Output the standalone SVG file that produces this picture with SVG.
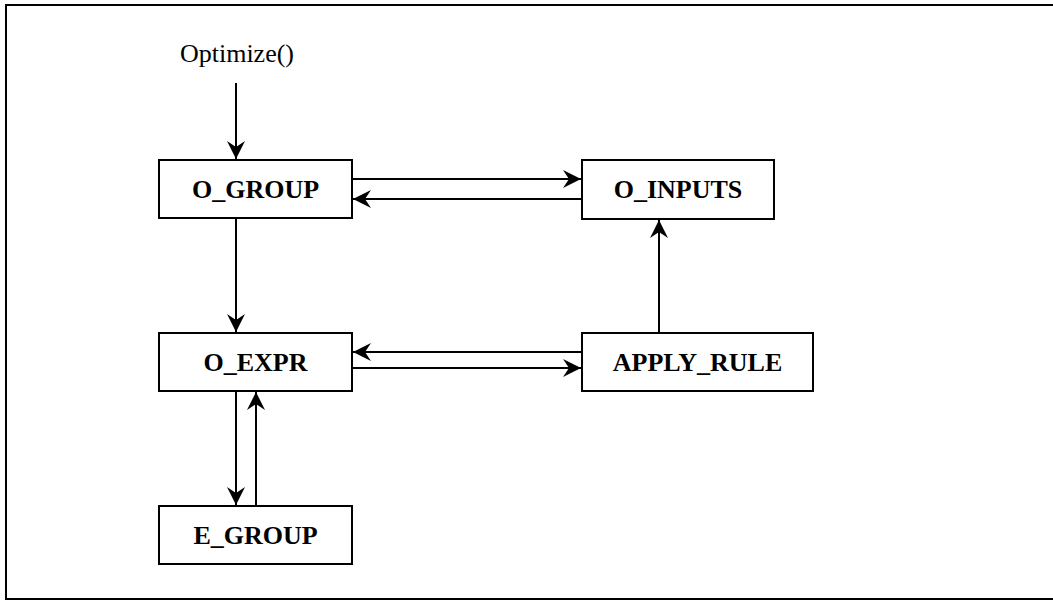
<svg xmlns="http://www.w3.org/2000/svg" width="1053" height="601" viewBox="0 0 1053 601">
<style>
.box{fill:#fff;stroke:#000;stroke-width:2}
.lbl{font-family:"Liberation Serif","Times New Roman",serif;font-size:26px;font-weight:bold;text-anchor:middle;fill:#000}
.plain{font-family:"Liberation Serif","Times New Roman",serif;font-size:26px;text-anchor:middle;fill:#000}
.edge{fill:none;stroke:#000;stroke-width:2;marker-end:url(#arr)}
</style>
<defs>
<marker id="arr" markerUnits="userSpaceOnUse" markerWidth="22" markerHeight="22" viewBox="-20 -11 22 22" refX="0" refY="0" orient="auto">
<path d="M0,0 L-18,-9 L-12,0 L-18,9 Z" fill="#000"/>
</marker>
</defs>
<rect width="1053" height="601" fill="#fff"/>
<path d="M6,600 L6,5 L1053,5 M6,599 L1053,599" fill="none" stroke="#000" stroke-width="2"/>
<text class="plain" x="237" y="62">Optimize()</text>
<g id="connectors">
<line class="edge" x1="236" y1="83" x2="236" y2="159"/>
<line class="edge" x1="352" y1="179" x2="581" y2="179"/>
<line class="edge" x1="582" y1="199" x2="353" y2="199"/>
<line class="edge" x1="236" y1="218" x2="236" y2="332"/>
<line class="edge" x1="582" y1="352" x2="353" y2="352"/>
<line class="edge" x1="352" y1="368" x2="581" y2="368"/>
<line class="edge" x1="236" y1="391" x2="236" y2="505"/>
<line class="edge" x1="256" y1="506" x2="256" y2="392"/>
<line class="edge" x1="659" y1="333" x2="659" y2="220"/>
</g>
<g id="o_group"><rect class="box" x="159" y="160" width="193" height="58"/><text class="lbl" x="255.5" y="198">O_GROUP</text></g>
<g id="o_inputs"><rect class="box" x="582" y="160" width="192" height="59"/><text class="lbl" x="678" y="198">O_INPUTS</text></g>
<g id="o_expr"><rect class="box" x="159" y="333" width="193" height="58"/><text class="lbl" x="255.5" y="371">O_EXPR</text></g>
<g id="apply_rule"><rect class="box" x="582" y="333" width="231" height="58"/><text class="lbl" x="697.5" y="371">APPLY_RULE</text></g>
<g id="e_group"><rect class="box" x="159" y="506" width="193" height="58"/><text class="lbl" x="255.5" y="544">E_GROUP</text></g>
</svg>
